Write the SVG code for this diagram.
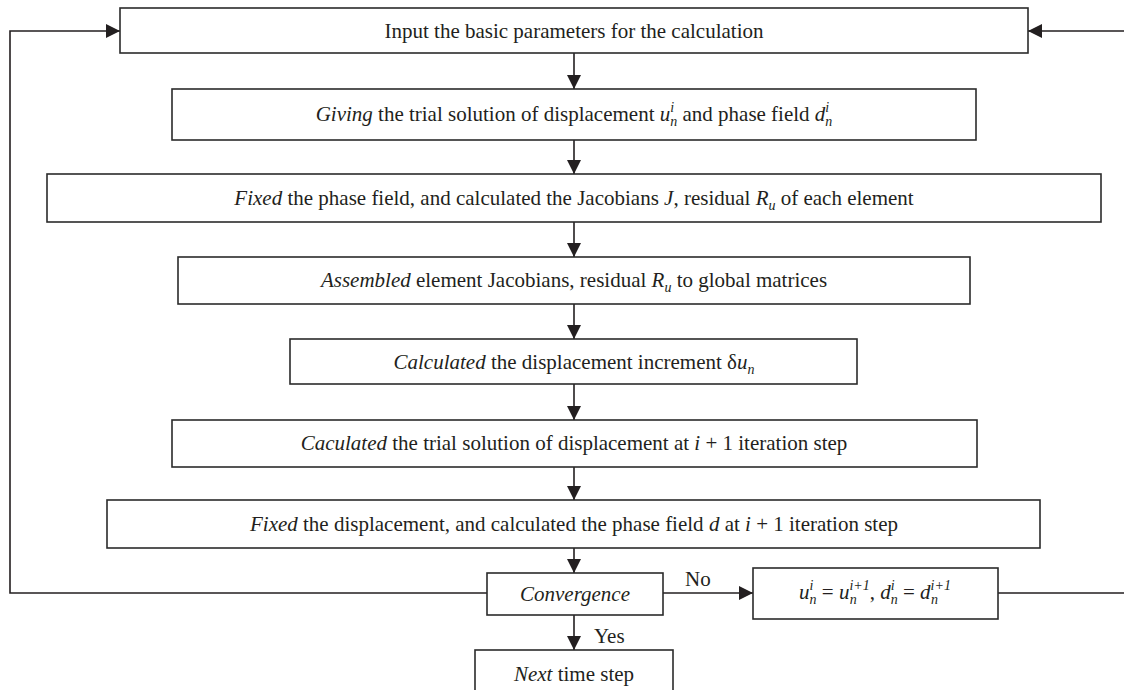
<svg xmlns="http://www.w3.org/2000/svg" width="1124" height="690" viewBox="0 0 1124 690">
<style>
.box{fill:#fff;stroke:#2b2b2b;stroke-width:1.6}
.ln{fill:none;stroke:#231f20;stroke-width:1.6}
text{font-family:"Liberation Serif","Times New Roman",serif;font-size:21px;fill:#231f20}
.t{text-anchor:middle}
.i{font-style:italic}
.s{font-size:14px;font-style:italic}
</style>
<defs>
<marker id="ah" viewBox="0 0 14 14" refX="14" refY="7" markerWidth="14" markerHeight="14" markerUnits="userSpaceOnUse" orient="auto">
<path d="M0,0 L14,7 L0,14 Z" fill="#231f20"/>
</marker>
</defs>
<g id="connectors">
<line class="ln" x1="574" y1="53" x2="574" y2="89" marker-end="url(#ah)"/>
<line class="ln" x1="574" y1="140" x2="574" y2="174" marker-end="url(#ah)"/>
<line class="ln" x1="574" y1="222" x2="574" y2="257" marker-end="url(#ah)"/>
<line class="ln" x1="574" y1="304" x2="574" y2="339" marker-end="url(#ah)"/>
<line class="ln" x1="574" y1="384" x2="574" y2="420" marker-end="url(#ah)"/>
<line class="ln" x1="574" y1="467" x2="574" y2="500" marker-end="url(#ah)"/>
<line class="ln" x1="574" y1="548" x2="574" y2="573" marker-end="url(#ah)"/>
<line class="ln" x1="574" y1="615" x2="574" y2="650" marker-end="url(#ah)"/>
<line class="ln" x1="663" y1="593" x2="753" y2="593" marker-end="url(#ah)"/>
<path class="ln" d="M487,593 H10 V31 H120" marker-end="url(#ah)"/>
<path class="ln" d="M998,593 H1127 V31 H1028" marker-end="url(#ah)"/>
<text x="685" y="586">No</text>
<text x="594" y="643">Yes</text>
</g>
<g id="n1">
<rect class="box" x="120" y="8" width="908" height="45"/>
<text class="t" x="574" y="38">Input the basic parameters for the calculation</text>
</g>
<g id="n2">
<rect class="box" x="172" y="89" width="804" height="51"/>
<text class="t" x="574" y="121"><tspan class="i">Giving</tspan> the trial solution of displacement <tspan class="i">u</tspan><tspan class="s" dy="-9">i</tspan><tspan class="s" dx="-3.9" dy="14">n</tspan><tspan dy="-5"> and phase field </tspan><tspan class="i">d</tspan><tspan class="s" dy="-9">i</tspan><tspan class="s" dx="-3.9" dy="14">n</tspan></text>
</g>
<g id="n3">
<rect class="box" x="47" y="174" width="1054" height="48"/>
<text class="t" x="574" y="205"><tspan class="i">Fixed</tspan> the phase field, and calculated the Jacobians <tspan class="i">J</tspan>, residual <tspan class="i">R</tspan><tspan class="s" dy="5">u</tspan><tspan dy="-5"> of each element</tspan></text>
</g>
<g id="n4">
<rect class="box" x="178" y="257" width="792" height="47"/>
<text class="t" x="574" y="287"><tspan class="i">Assembled</tspan> element Jacobians, residual <tspan class="i">R</tspan><tspan class="s" dy="5">u</tspan><tspan dy="-5"> to global matrices</tspan></text>
</g>
<g id="n5">
<rect class="box" x="290" y="339" width="567" height="45"/>
<text class="t" x="574" y="369"><tspan class="i">Calculated</tspan> the displacement increment δ<tspan class="i">u</tspan><tspan class="s" dy="5">n</tspan></text>
</g>
<g id="n6">
<rect class="box" x="172" y="420" width="805" height="47"/>
<text class="t" x="574" y="450"><tspan class="i">Caculated</tspan> the trial solution of displacement at <tspan class="i">i</tspan> + 1 iteration step</text>
</g>
<g id="n7">
<rect class="box" x="107" y="500" width="933" height="48"/>
<text class="t" x="574" y="531"><tspan class="i">Fixed</tspan> the displacement, and calculated the phase field <tspan class="i">d</tspan> at <tspan class="i">i</tspan> + 1 iteration step</text>
</g>
<g id="n8">
<rect class="box" x="487" y="573" width="176" height="42"/>
<text class="t i" x="575" y="601">Convergence</text>
</g>
<g id="n9">
<rect class="box" x="753" y="568" width="245" height="51"/>
<text class="t" x="875" y="599"><tspan class="i">u</tspan><tspan class="s" dy="-9">i</tspan><tspan class="s" dx="-3.9" dy="14">n</tspan><tspan dy="-5"> = </tspan><tspan class="i">u</tspan><tspan class="s" dy="-9">i+1</tspan><tspan class="s" dx="-20" dy="14">n</tspan><tspan dx="13" dy="-5">, </tspan><tspan class="i">d</tspan><tspan class="s" dy="-9">i</tspan><tspan class="s" dx="-3.9" dy="14">n</tspan><tspan dy="-5"> = </tspan><tspan class="i">d</tspan><tspan class="s" dy="-9">i+1</tspan><tspan class="s" dx="-20" dy="14">n</tspan></text>
</g>
<g id="n10">
<rect class="box" x="475" y="650" width="198" height="50"/>
<text class="t" x="574" y="681"><tspan class="i">Next</tspan> time step</text>
</g>
</svg>
